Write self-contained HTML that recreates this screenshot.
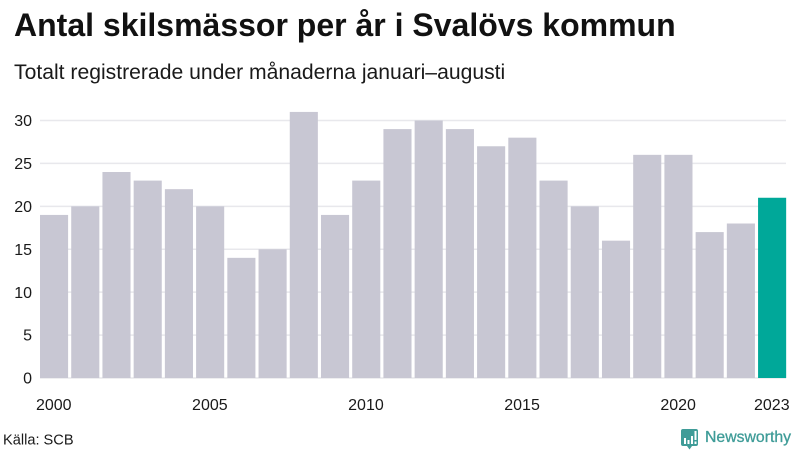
<!DOCTYPE html>
<html lang="sv">
<head>
<meta charset="utf-8">
<title>Antal skilsmässor per år i Svalövs kommun</title>
<style>
html,body{margin:0;padding:0;background:#fff;width:800px;height:450px;overflow:hidden}
svg{display:block}
text{font-family:"Liberation Sans",sans-serif;fill:#1a1a1a}
</style>
</head>
<body>
<svg id="chart" width="800" height="450" viewBox="0 0 800 450" xmlns="http://www.w3.org/2000/svg">
<text x="14" y="36" font-size="32" font-weight="700" style="fill:#111">Antal skilsmässor per år i Svalövs kommun</text>
<text x="14" y="79" font-size="21.15">Totalt registrerade under månaderna januari–augusti</text>
<g id="grid"></g>
<g id="ylabels"></g>
<g id="bars"></g>
<g id="xlabels"></g>
<text x="3" y="444.500" font-size="14.6">Källa: SCB</text>
<g>
<path d="M683 429h13a2 2 0 0 1 2 2v13a2 2 0 0 1-2 2h-4l-2.500 3.500-2.500-3.500h-4a2 2 0 0 1-2-2v-13a2 2 0 0 1 2-2z" style="fill:#3f9c98"/>
<path d="M684 438h2v6h-2zM687.500 440h2v4h-2zM691 436h2v8h-2zM694.500 431h2v9h-2zM694.500 441.500h2v2.500h-2z" style="fill:#fff"/>
<text x="705" y="442" font-size="15.8" font-weight="400" style="fill:#3f9c98;stroke:#3f9c98;stroke-width:.3">Newsworthy</text>
</g>
</svg>
<script>
const years = [2000,2001,2002,2003,2004,2005,2006,2007,2008,2009,2010,2011,2012,2013,2014,2015,2016,2017,2018,2019,2020,2021,2022,2023];
const divorces = [19,20,24,23,22,20,14,15,31,19,23,29,30,29,27,28,23,20,16,26,26,17,18,21];
const yTicks = [0,5,10,15,20,25,30];
const xTickYears = [2000,2005,2010,2015,2020,2023];
const highlightYear = 2023;

const NS = 'http://www.w3.org/2000/svg';
const plotLeft = 40, plotRight = 786, plotBottom = 378, unitHeight = 8.583;
const barPitch = 31.22, barWidth = 28.1;
function yScale(v){ return plotBottom - v * unitHeight; }
function xScale(year){ return plotLeft + (year - years[0]) * barPitch; }

const gridGroup = document.getElementById('grid');
const yLabelGroup = document.getElementById('ylabels');
yTicks.forEach(function(t){
  const line = document.createElementNS(NS,'line');
  
  
  line.setAttribute('x1', plotLeft);
  line.setAttribute('x2', plotRight);
  line.setAttribute('y1', yScale(t));
  line.setAttribute('y2', yScale(t));
  line.setAttribute('stroke', '#e8e8ec');
  line.setAttribute('stroke-width', '1.5');
  gridGroup.appendChild(line);
  const label = document.createElementNS(NS,'text');
  
  
  label.setAttribute('x', 32);
  label.setAttribute('y', yScale(t) + 5.6);
  label.setAttribute('text-anchor', 'end');
  label.setAttribute('font-size', '16');
  label.textContent = t;
  yLabelGroup.appendChild(label);
});

const barGroup = document.getElementById('bars');
years.forEach(function(year, i){
  const bar = document.createElementNS(NS,'rect');
  
  
  bar.setAttribute('x', xScale(year));
  bar.setAttribute('y', yScale(divorces[i]));
  bar.setAttribute('width', barWidth);
  bar.setAttribute('height', plotBottom - yScale(divorces[i]));
  bar.setAttribute('fill', year === highlightYear ? '#00a899' : '#c8c7d3');
  barGroup.appendChild(bar);
});

const xLabelGroup = document.getElementById('xlabels');
xTickYears.forEach(function(year){
  const label = document.createElementNS(NS,'text');
  
  
  label.setAttribute('x', xScale(year) + barWidth / 2 - 0.3);
  label.setAttribute('y', 410);
  label.setAttribute('text-anchor', 'middle');
  label.setAttribute('font-size', '16');
  label.textContent = year;
  xLabelGroup.appendChild(label);
});
</script>
</body>
</html>
